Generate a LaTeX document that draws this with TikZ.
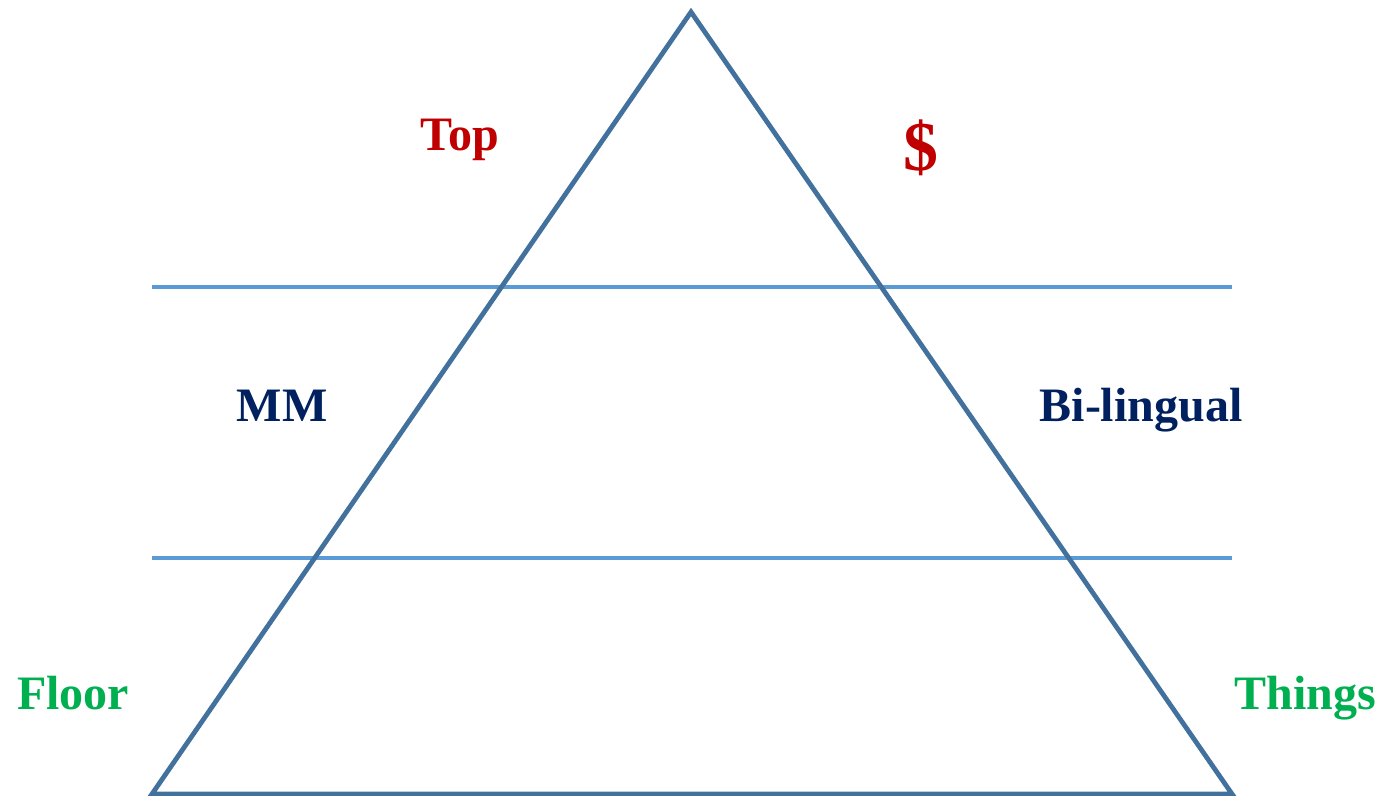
\documentclass[tikz,border=0pt]{standalone}
\usepackage{fontspec}
\setmainfont{Liberation Serif}
\usetikzlibrary{positioning}
\definecolor{colRed}{RGB}{192,0,0}
\definecolor{colNavy}{RGB}{0,32,96}
\definecolor{colGreen}{RGB}{0,176,80}
\definecolor{colEdge}{RGB}{65,113,156}
\definecolor{colBand}{RGB}{91,155,213}
\tikzset{
    label/.style={font=\fontsize{24}{28}\selectfont\bfseries, inner sep=0pt, anchor=base},
    edge/.style={draw=colEdge, line width=2.4pt, line join=miter},
    band/.style={draw=colBand, line width=2.2pt}
}

\begin{document}
\begin{tikzpicture}[x=0.5pt, y=-0.5pt]

    \useasboundingbox (0,0) rectangle (1384,796);

    % pyramid corners
    \coordinate (apex) at (691,12);
    \coordinate (baseL) at (152,794);
    \coordinate (baseR) at (1232,794);

    % band lines
    \coordinate (upL) at (152,287);
    \coordinate (upR) at (1232,287);
    \coordinate (lowL) at (152,558);
    \coordinate (lowR) at (1232,558);

    \draw[band] (upL) -- (upR);
    \draw[band] (lowL) -- (lowR);
    \draw[edge] (baseL) -- (apex) -- (baseR) -- cycle;

    \node[label, text=colRed] (top) at (460,151) {Top};
    \node[label, text=colRed, font=\fontsize{35}{40}\selectfont\bfseries] (money) at (921,171) {\$};
    \node[label, text=colNavy] (mm) at (282,421) {MM};
    \node[label, text=colNavy] (bilingual) at (1141,421) {Bi-lingual};
    \node[label, text=colGreen] (floor) at (73,709) {Floor};
    \node[label, text=colGreen] (things) at (1305,709) {Things};

\end{tikzpicture}
\end{document}
